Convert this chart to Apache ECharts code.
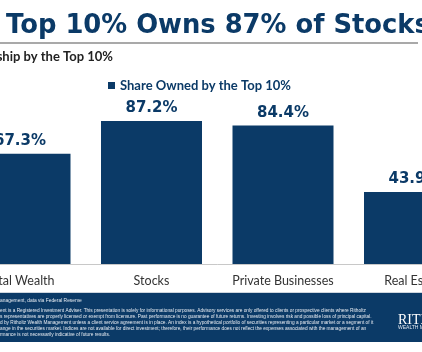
<!DOCTYPE html>
<html>
<head>
<meta charset="utf-8">
<script src="https://cdn.jsdelivr.net/npm/echarts@6/dist/echarts.min.js"></script>
<style>
  html, body { margin: 0; padding: 0; background: #fff; overflow: hidden; }
  #wrap { position: relative; width: 422px; height: 352px; overflow: hidden; }
  /* the reference is a crop of a wider slide, so the chart is wider and shifted left */
  #main { position: absolute; left: -100px; top: 0; width: 622px; height: 352px; }
</style>
</head>
<body>
<div id="wrap"><div id="main"></div></div>
<script>
// data
const categories = ['Total Wealth', 'Stocks', 'Private Businesses', 'Real Estate'];
const shareTop10 = [67.3, 87.2, 84.4, 43.9];

const titleText = 'The Top 10% Owns 87% of Stocks';
const subtitleText = 'Ownership by the Top 10%';
const seriesName = 'Share Owned by the Top 10%';
const sourceText = 'anagement, data via Federal Reserve';
const disclaimerLines = [
    'ent is a Registered Investment Adviser. This presentation is solely for informational purposes. Advisory services are only offered to clients or prospective clients where Ritholtz',
    's representatives are properly licensed or exempt from licensure. Past performance is no guarantee of future returns. Investing involves risk and possible loss of principal capital.',
    'd by Ritholtz Wealth Management unless a client service agreement is in place. An index is a hypothetical portfolio of securities representing a particular market or a segment of it',
    'ange in the securities market. Indices are not available for direct investment; therefore, their performance does not reflect the expenses associated with the management of an',
    'rmance is not necessarily indicative of future results.'
];

const navy = '#0b3a67';
const off = 100; // container shift

// fit the visible title ("Top ... Stocks") to the width it has in the picture
const ctx = document.createElement('canvas').getContext('2d');
ctx.font = 'bold 100px "DejaVu Sans"';
const visW = ctx.measureText('Top 10% Owns 87% of Stocks').width;
const titleSize = 100 * 424 / visW;
const titleFont = 'bold ' + titleSize.toFixed(2) + 'px "DejaVu Sans"';
ctx.font = titleFont;
const theWidth = ctx.measureText('The ').width;

const chart = echarts.init(document.getElementById('main'), null, { renderer: 'canvas' });

chart.setOption({
    animation: false,
    backgroundColor: '#fff',
    legend: {
        data: [seriesName],
        left: off + 103,
        top: 74,
        icon: 'rect',
        itemWidth: 7,
        itemHeight: 7,
        textStyle: { color: navy, fontWeight: 'bold', fontSize: 13, fontFamily: 'Lato' }
    },
    grid: { left: off - 45.75, width: 526, top: 100, height: 164 },
    xAxis: {
        type: 'category',
        data: categories,
        axisTick: { show: false },
        axisLine: { lineStyle: { color: '#c8c8c8', width: 1 } },
        axisLabel: { interval: 0, color: '#333', fontSize: 12.5, margin: 10, fontFamily: 'Lato' }
    },
    yAxis: {
        type: 'value',
        min: 0,
        max: 100,
        show: false,
        splitLine: { show: false }
    },
    series: [{
        name: seriesName,
        type: 'bar',
        data: shareTop10,
        barWidth: 101,
        itemStyle: { color: navy },
        label: {
            show: true,
            position: 'top',
            distance: 5,
            color: navy,
            fontWeight: 'bold',
            fontSize: 15,
            fontFamily: 'DejaVu Sans',
            formatter: p => p.value.toFixed(1) + '%'
        }
    }],
    graphic: [
        {
            type: 'text', x: off + 6 - theWidth, y: 26,
            style: { text: titleText, font: titleFont, fill: navy, verticalAlign: 'middle' }
        },
        {
            type: 'line', shape: { x1: off, y1: 43, x2: off + 418, y2: 43 },
            style: { stroke: '#8c8c8c', lineWidth: 1.5 }
        },
        {
            type: 'text', x: off + 113, y: 57,
            style: { text: subtitleText, font: 'bold 13px Lato', fill: '#222', align: 'right', verticalAlign: 'middle' }
        },
        {
            type: 'rect', shape: { x: off, y: 293, width: 422, height: 49 },
            style: { fill: navy }
        },
        {
            type: 'line', shape: { x1: off, y1: 292.5, x2: off + 422, y2: 292.5 },
            style: { stroke: '#cfd6de', lineWidth: 1 }
        },
        {
            type: 'text', x: off, y: 301,
            style: { text: sourceText, font: '4.9px "Liberation Sans"', fill: '#e6ebf1', verticalAlign: 'middle' }
        },
        ...disclaimerLines.map((line, i) => ({
            type: 'text', x: off, y: 311 + i * 6,
            style: { text: line, font: '4.75px "Liberation Sans"', fill: '#e6ebf1', verticalAlign: 'middle' }
        })),
        {
            type: 'text', x: off + 398, y: 320,
            style: { text: 'RITHOLTZ', font: '14px "Liberation Serif"', fill: '#fff', verticalAlign: 'middle' }
        },
        {
            type: 'text', x: off + 398, y: 328,
            style: { text: 'WEALTH MANAGEMENT', font: '5px "Liberation Sans"', fill: '#dfe6ee', verticalAlign: 'middle' }
        }
    ]
});
</script>
</body>
</html>
